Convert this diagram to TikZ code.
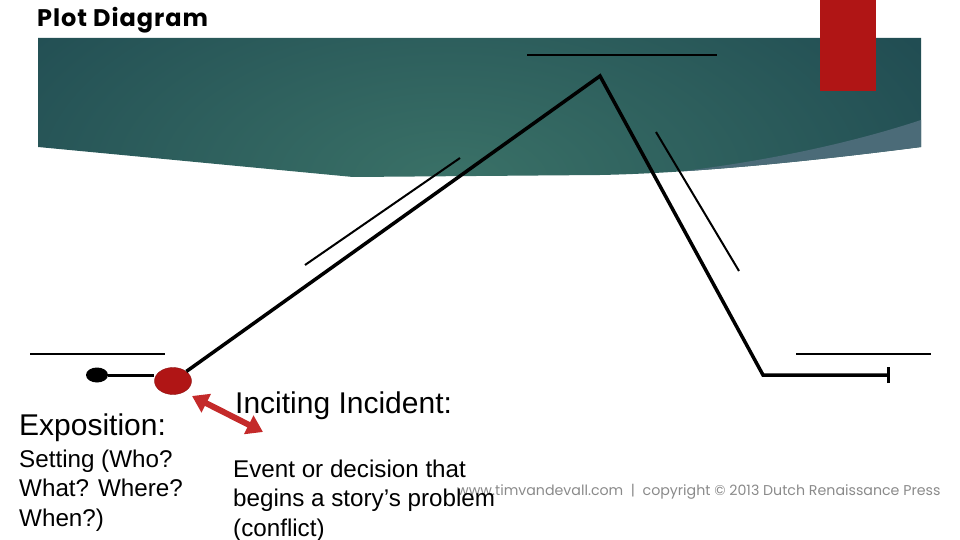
\documentclass[tikz,border=0pt]{standalone}
\usepackage{fontspec}
\setmainfont{Liberation Sans}
\newfontfamily\titlefont{Poppins}[LetterSpace=4]
\newfontfamily\creditfont{Poppins}
\usetikzlibrary{
    positioning,
    arrows.meta,
    shapes.geometric
}

\definecolor{bandDark}{HTML}{143A48}
\definecolor{bandLight}{HTML}{3A7167}
\definecolor{bandEdge}{HTML}{4B6B78}
\definecolor{tabRed}{HTML}{B01515}
\definecolor{arrowRed}{HTML}{C42A2A}
\definecolor{markGray}{HTML}{8A8A8A}

\begin{document}
\begin{tikzpicture}[x=1pt, y=-1pt]

    % --- Styles ---
    \tikzset{
        plot_line/.style={line width=3.5pt, black, line join=miter},
        guide_line/.style={line width=2pt, black},
        heading_text/.style={font=\fontsize{30}{31}\selectfont, anchor=base west, inner sep=0pt},
        body_text/.style={font=\fontsize{24.2}{29.5}\selectfont, anchor=base west, align=left, inner sep=0pt},
        BigTip/.tip={Triangle[length=16pt, width=20pt]}
    }

    \useasboundingbox (0,0) rectangle (960,540);

    % --- Title band ---
    \begin{scope}
        \clip (38,38) -- (921,38) -- (921,147) .. controls (820,160) and (700,173) .. (600,175)
              -- (353,177) -- (38,147) -- cycle;
        \shade[inner color=bandLight, outer color=bandDark] (450,180) ellipse (820 and 420);
        \fill[bandEdge] (921,120) .. controls (830,150) and (730,167) .. (640,176)
              -- (640,200) -- (921,200) -- cycle;
    \end{scope}
    \fill[tabRed] (820,0) rectangle (876,91);

    \node[font=\titlefont\bfseries\fontsize{24}{26}\selectfont, anchor=base west, inner sep=0pt]
        (title) at (37,27) {Plot Diagram};

    % --- Credit line (behind the texts) ---
    \node[font=\creditfont\fontsize{14.2}{16}\selectfont, text=markGray, anchor=base west, inner sep=0pt]
        (credit) at (457,495) {www.timvandevall.com \ | \ copyright © 2013 Dutch Renaissance Press};

    % --- Plot points ---
    \node[ellipse, fill=black, minimum width=22pt, minimum height=15pt, inner sep=0pt] (start_dot) at (97,375) {};
    \node[ellipse, fill=tabRed, draw=tabRed!80!black, minimum width=37pt, minimum height=27pt, inner sep=0pt]
        (inciting) at (173,381) {};
    \coordinate (peak) at (600,76);
    \coordinate (fall_end) at (763,375);
    \coordinate (end_tick) at (888,375);

    % --- Plot line ---
    \draw[line width=3pt] (start_dot.east) -- (start_dot.east -| inciting.west);
    \draw[plot_line] (inciting) -- (peak) -- (fall_end) -- (end_tick);
    \draw[line width=3pt] ([yshift=-8pt]end_tick) -- ([yshift=8pt]end_tick);

    % --- Blank lines to write on ---
    \coordinate (expo_l) at (30,354);    \coordinate (expo_r) at (165,354);
    \coordinate (rise_a) at (305,265);   \coordinate (rise_b) at (460,158);
    \coordinate (climax_l) at (527,55);  \coordinate (climax_r) at (717,55);
    \coordinate (fall_a) at (656,132);   \coordinate (fall_b) at (739,271);
    \coordinate (res_l) at (796,354);    \coordinate (res_r) at (931,354);
    \foreach \a/\b in {expo_l/expo_r, rise_a/rise_b, climax_l/climax_r, fall_a/fall_b, res_l/res_r}
        \draw[guide_line] (\a) -- (\b);

    % --- Labels ---
    \node[heading_text] (expo_head) at (19,435) {Exposition:};
    \node[body_text] (expo_body) at (19,526) {Setting (Who?\\What? Where?\\When?)};
    \node[heading_text] (inc_head) at (235,413) {Inciting Incident:};
    \node[body_text] (inc_body) at (233,536) {Event or decision that\\begins a story’s problem\\(conflict)};

    % --- Red arrow ---
    \coordinate (arr_a) at (192,396);
    \coordinate (arr_b) at (263,432);
    \draw[arrowRed, line width=6pt, BigTip-BigTip] (arr_a) -- (arr_b);

\end{tikzpicture}
\end{document}
